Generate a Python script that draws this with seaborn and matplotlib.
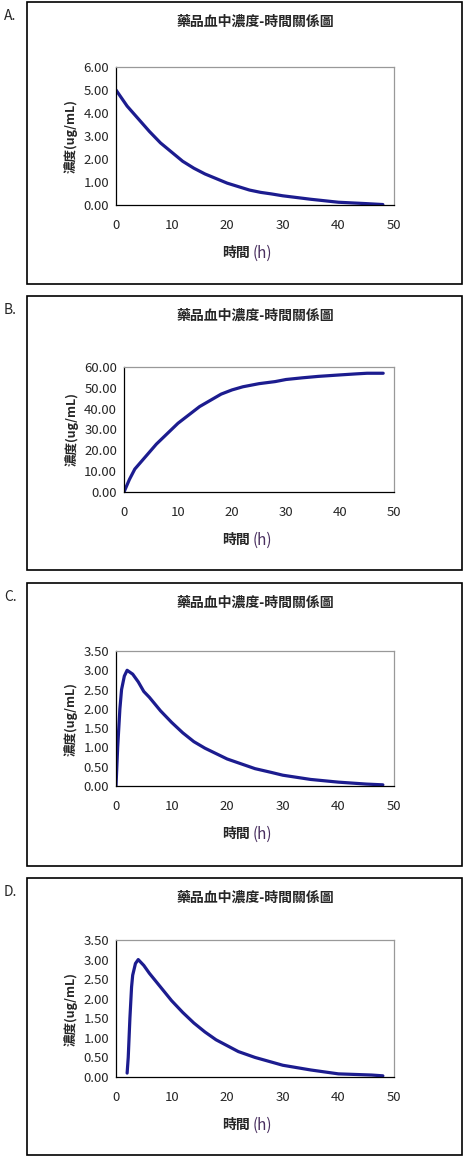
import matplotlib
matplotlib.use("Agg")
import matplotlib.pyplot as plt
import seaborn as sns
import pandas as pd
from matplotlib.patches import Rectangle

sns.set_style("white")
plt.rcParams['font.family'] = ['Noto Sans CJK TC', 'DejaVu Sans']

title = "藥品血中濃度-時間關係圖"
ylabel = "濃度(ug/mL)"
xlabel = "時間"
letters = ["A.", "B.", "C.", "D."]

tA = [0, 2, 4, 6, 8, 10, 12, 14, 16, 18, 20, 22, 24, 26, 28, 30, 35, 40, 45, 48]
yA = [5.0, 4.3, 3.75, 3.2, 2.7, 2.3, 1.9, 1.6, 1.35, 1.15, 0.95, 0.8, 0.65, 0.55, 0.48, 0.40, 0.25, 0.12, 0.06, 0.02]
tB = [0, 1, 2, 4, 6, 8, 10, 12, 14, 16, 18, 20, 22, 25, 28, 30, 33, 36, 40, 43, 45, 48]
yB = [0, 6, 11, 17, 23, 28, 33, 37, 41, 44, 47, 49, 50.5, 52, 53, 54, 54.8, 55.5, 56.2, 56.7, 57, 57]
tC = [0, 0.3, 0.7, 1, 1.5, 2, 3, 4, 5, 6, 8, 10, 12, 14, 16, 18, 20, 22, 25, 28, 30, 35, 40, 45, 48]
yC = [0, 1.0, 2.0, 2.5, 2.85, 3.0, 2.9, 2.7, 2.45, 2.3, 1.95, 1.65, 1.38, 1.15, 0.98, 0.84, 0.7, 0.6, 0.45, 0.35, 0.28, 0.17, 0.1, 0.05, 0.03]
tD = [2, 2.2, 2.5, 2.8, 3, 3.5, 4, 5, 6, 8, 10, 12, 14, 16, 18, 20, 22, 25, 28, 30, 35, 40, 46, 48]
yD = [0.1, 0.5, 1.5, 2.3, 2.6, 2.9, 3.0, 2.85, 2.65, 2.3, 1.95, 1.65, 1.38, 1.15, 0.95, 0.8, 0.65, 0.5, 0.38, 0.3, 0.18, 0.08, 0.05, 0.03]

xticks = [0, 10, 20, 30, 40, 50]
yticksA = [0, 1, 2, 3, 4, 5, 6]
yticksB = [0, 10, 20, 30, 40, 50, 60]
yticksC = [0, 0.5, 1, 1.5, 2, 2.5, 3, 3.5]

W, H = 466, 1159
fig = plt.figure(figsize=(W / 100, H / 100), dpi=100)

layout = [
    (2, 284, 116, 67, 205),
    (296, 570, 124, 367, 492),
    (583, 866, 116, 651, 786),
    (878, 1155, 116, 940, 1077),
]
series = [(tA, yA, yticksA), (tB, yB, yticksB), (tC, yC, yticksC), (tD, yD, yticksC)]
line_color = "#1c1c8f"

for i, ((bt, bb, al, at, ab), (t, y, yt)) in enumerate(zip(layout, series)):
    fig.patches.append(Rectangle((27 / W, 1 - bb / H), (462 - 27) / W, (bb - bt) / H,
                                 transform=fig.transFigure, fill=False, ec="black", lw=1.2))
    fig.text(4 / W, 1 - (bt + 14) / H, letters[i], fontsize=10, va="center", ha="left")
    fig.text(255 / W, 1 - (bt + 20) / H, title, fontsize=10, va="center", ha="center", fontweight="bold")

    ar = 394
    ax = fig.add_axes([al / W, 1 - ab / H, (ar - al) / W, (ab - at) / H])
    df = pd.DataFrame({"t": t, "y": y})
    sns.lineplot(data=df, x="t", y="y", ax=ax, color=line_color, lw=2.3, estimator=None, sort=False)
    ax.set_xlim(0, 50)
    ax.set_ylim(yt[0], yt[-1])
    ax.set_xticks(xticks)
    ax.set_yticks(yt)
    ax.set_xticklabels([str(v) for v in xticks], fontsize=9.5)
    ax.set_yticklabels([f"{v:.2f}" for v in yt], fontsize=9.5)
    ax.tick_params(axis="x", direction="in", length=3, pad=10)
    ax.tick_params(axis="y", direction="out", length=3, pad=2)
    for s in ["top", "right"]:
        ax.spines[s].set_color("#999999")
    for s in ["left", "bottom"]:
        ax.spines[s].set_color("black")
    for s in ax.spines.values():
        s.set_linewidth(0.9)
    ax.set_ylabel(ylabel, fontsize=9, labelpad=4, fontweight="bold")
    ax.set_xlabel("")
    fig.text(236 / W, 1 - (ab + 48) / H, xlabel, fontsize=10, ha="center", va="center", fontweight="bold")
    fig.text(262 / W, 1 - (ab + 48) / H, "(h)", fontsize=11, ha="center", va="center", color="#4a3060")

fig.savefig("out.png", dpi=100)
